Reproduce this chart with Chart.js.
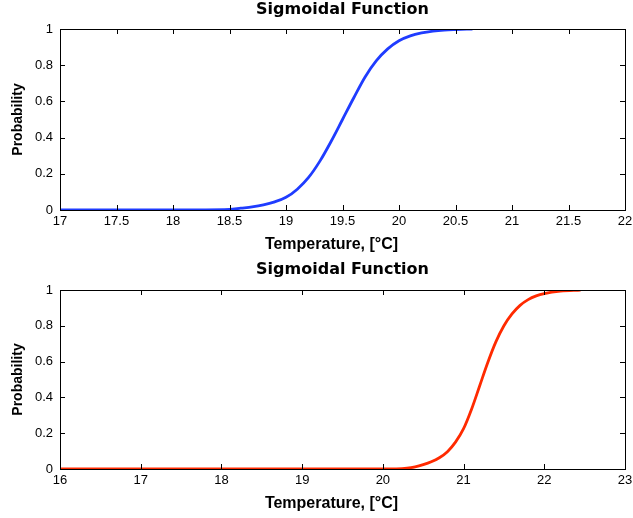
<!DOCTYPE html>
<html>
<head>
<meta charset="utf-8">
<script src="https://cdn.jsdelivr.net/npm/chart.js@4.4.0/dist/chart.umd.min.js"></script>
<style>
  html, body { margin: 0; padding: 0; background: #fff; }
  #wrap { position: relative; width: 633px; height: 518px; }
  .box { position: absolute; left: 0; width: 633px; height: 259px; }
</style>
</head>
<body>
<div id="wrap">
  <div class="box" style="top:0"><canvas id="topChart" width="633" height="259"></canvas></div>
  <div class="box" style="top:259px"><canvas id="bottomChart" width="633" height="259"></canvas></div>
</div>
<script>
// values
const tempTop = [17, 17.5, 18, 18.5, 18.6, 18.7, 18.8, 18.9, 19.0, 19.1, 19.2, 19.3, 19.4, 19.5, 19.6, 19.7, 19.8, 19.9, 20.0, 20.1, 20.2, 20.3, 20.4, 20.5, 20.65];
const probTop = [0, 0, 0, 0.003, 0.01, 0.017, 0.028, 0.045, 0.07, 0.115, 0.18, 0.27, 0.38, 0.50, 0.62, 0.735, 0.825, 0.89, 0.935, 0.962, 0.978, 0.988, 0.994, 0.997, 1.0];

const tempBottom = [16, 17, 18, 19, 20, 20.3, 20.4, 20.5, 20.6, 20.7, 20.8, 20.9, 21.0, 21.1, 21.2, 21.3, 21.4, 21.5, 21.6, 21.7, 21.8, 21.9, 22.0, 22.2, 22.45];
const probBottom = [0, 0, 0, 0, 0, 0.005, 0.012, 0.024, 0.04, 0.063, 0.097, 0.15, 0.225, 0.335, 0.465, 0.595, 0.71, 0.8, 0.866, 0.914, 0.946, 0.967, 0.98, 0.994, 1.0];

const probTicks = [0, 0.2, 0.4, 0.6, 0.8, 1];

const chartTitle = 'Sigmoidal Function';
const xLabel = 'Temperature, [°C]';
const yLabel = 'Probability';

const tickFont = { family: "'Liberation Sans', Arial, sans-serif", size: 13 };

// title over the plot area, x label, box round the plot, inward tick marks on all sides
const boxTicks = {
  id: 'boxTicks',
  afterDraw(chart, args, opts) {
    const ctx = chart.ctx;
    const a = chart.chartArea;
    const xs = chart.scales.x;
    const ys = chart.scales.y;
    const len = 5;
    ctx.save();
    ctx.fillStyle = '#000';
    ctx.textAlign = 'center';
    ctx.textBaseline = 'middle';
    ctx.font = "bold 16px 'DejaVu Sans', sans-serif";
    ctx.fillText(chartTitle, (a.left + a.right) / 2, opts.titleY);
    ctx.font = "bold 16px 'Liberation Sans', Arial, sans-serif";
    ctx.fillText(xLabel, (a.left + a.right) / 2 - 11, a.bottom + 35);

    ctx.strokeStyle = '#000';
    ctx.lineWidth = 1;
    ctx.strokeRect(Math.round(a.left) + 0.5, Math.round(a.top) + 0.5,
      Math.round(a.right - a.left), Math.round(a.bottom - a.top));
    ctx.beginPath();
    xs.ticks.forEach(t => {
      const px = Math.round(xs.getPixelForValue(t.value)) + 0.5;
      ctx.moveTo(px, a.bottom); ctx.lineTo(px, a.bottom - len);
      ctx.moveTo(px, a.top); ctx.lineTo(px, a.top + len);
    });
    ys.ticks.forEach(t => {
      const py = Math.round(ys.getPixelForValue(t.value)) + 0.5;
      ctx.moveTo(a.left, py); ctx.lineTo(a.left + len, py);
      ctx.moveTo(a.right, py); ctx.lineTo(a.right - len, py);
    });
    ctx.stroke();
    ctx.restore();
  }
};

function fmt(v) {
  return String(+Number(v).toFixed(2));
}

function makeChart(id, xs, ys, color, xMin, xMax, xStep, topPad, titleY) {
  const pts = xs.map((x, i) => ({ x: x, y: ys[i] }));
  return new Chart(document.getElementById(id), {
    type: 'line',
    data: {
      datasets: [{
        data: pts,
        borderColor: color,
        borderWidth: 2.8,
        pointRadius: 0,
        cubicInterpolationMode: 'monotone',
        fill: false
      }]
    },
    options: {
      responsive: false,
      animation: false,
      layout: { padding: { left: 0, right: 8, top: topPad, bottom: 0 } },
      plugins: {
        legend: { display: false },
        tooltip: { enabled: false },
        title: { display: false },
        boxTicks: { titleY: titleY }
      },
      scales: {
        x: {
          type: 'linear',
          min: xMin,
          max: xMax,
          grid: { drawOnChartArea: false, drawTicks: false },
          border: { display: false },
          ticks: {
            stepSize: xStep,
            autoSkip: false,
            maxRotation: 0,
            padding: 4,
            color: '#000',
            font: tickFont,
            callback: v => fmt(v)
          },
          afterFit(scale) {
            scale.height = 49;
            scale.paddingLeft = 0;
            scale.paddingRight = 0;
          }
        },
        y: {
          min: 0,
          max: 1,
          grid: { drawOnChartArea: false, drawTicks: false },
          border: { display: false },
          afterBuildTicks(scale) { scale.ticks = probTicks.map(v => ({ value: v })); },
          ticks: {
            padding: 7,
            color: '#000',
            font: tickFont,
            callback: v => fmt(v)
          },
          title: {
            display: true,
            text: yLabel,
            color: '#000',
            font: { family: "'Liberation Sans', Arial, sans-serif", size: 14, weight: 'bold', lineHeight: 1.2 },
            padding: { top: 10, bottom: 0 }
          },
          afterFit(scale) {
            scale.width = 60;
            scale.paddingTop = 0;
            scale.paddingBottom = 0;
          }
        }
      }
    },
    plugins: [boxTicks]
  });
}

makeChart('topChart', tempTop, probTop, '#1f3cff', 17, 22, 0.5, 29, 10);
makeChart('bottomChart', tempBottom, probBottom, '#ff2a00', 16, 23, 1, 31, 11);
</script>
</body>
</html>
